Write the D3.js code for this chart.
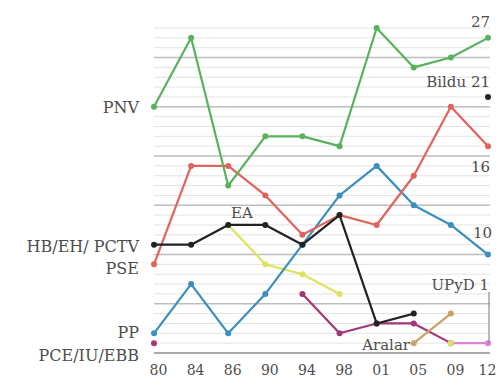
<!DOCTYPE html>
<html><head><meta charset="utf-8">
<script src="https://cdn.jsdelivr.net/npm/d3@7"></script>
<style>html,body{margin:0;padding:0;background:#fff}svg{display:block}</style>
</head><body>
<svg id="c" width="497" height="380"></svg>
<script>
const years = ["80","84","86","90","94","98","01","05","09","12"];
const pnv   = [25,32,17,22,22,21,33,29,30,32];
const pse   = [9,19,19,16,12,14,13,18,25,21];
const hb    = [11,11,13,13,11,14,3,4,null,26];
const pp    = [2,7,2,6,11,16,19,15,13,10];
const ea    = [null,null,13,9,8,6,null,null,1,null];
const iu    = [1,null,null,null,6,2,3,3,1,null];
const upyd  = [null,null,null,null,null,null,null,null,1,1];
const aralar= [null,null,null,null,null,null,null,1,4,null];
const gridMax = 33;

const series = [
  {name:"IU", values:iu, color:"#a3367a"},
  {name:"UPyD", values:upyd, color:"#e27fd6"},
  {name:"Aralar", values:aralar, color:"#c9a266"},
  {name:"EA", values:ea, color:"#dde35c"},
  {name:"PP", values:pp, color:"#3a8fbf"},
  {name:"PSE", values:pse, color:"#e0635c"},
  {name:"HB", values:hb, color:"#222222"},
  {name:"PNV", values:pnv, color:"#58b25c"}
];

const svg = d3.select("#c");
const x = d3.scalePoint().domain(years).range([154, 488]);
const y = d3.scaleLinear().domain([0, 33]).range([353, 28]);

// gridlines
const g = svg.append("g");
g.selectAll("line").data(d3.range(1, gridMax + 1)).join("line")
  .attr("x1", 154).attr("x2", 490)
  .attr("y1", d => y(d)).attr("y2", d => y(d))
  .attr("stroke", d => d % 5 === 0 ? "#bdbdbd" : "#e3e3e3")
  .attr("stroke-width", d => d % 5 === 0 ? 1.5 : 1);
g.append("line").attr("x1", 154).attr("x2", 490).attr("y1", y(0)).attr("y2", y(0))
  .attr("stroke", "#aaa").attr("stroke-width", 2);

// x axis labels
const xa = svg.append("g").attr("transform", `translate(0,${y(0)})`)
  .call(d3.axisBottom(x).tickSize(0).tickPadding(12));
xa.select(".domain").remove();
xa.selectAll("text").attr("dx", (d, i) => i === years.length - 1 ? -1 : 4)
  .attr("font-family", "DejaVu Serif").attr("font-size", 14).attr("fill", "#4d4d4d");

// lines
const line = d3.line().defined(d => d != null).x((d, i) => x(years[i])).y(d => y(d));
series.forEach(s => {
  const data = s.values;
  svg.append("path").attr("d", line(data)).attr("fill", "none")
    .attr("stroke", s.color).attr("stroke-width", 2.2).attr("stroke-linejoin", "round");
  svg.append("g").selectAll("circle")
    .data(data.map((v, i) => ({v, i})).filter(d => d.v != null)).join("circle")
    .attr("cx", d => x(years[d.i])).attr("cy", d => y(d.v)).attr("r", 3)
    .attr("fill", s.color);
});

// UPyD leader line
svg.append("line").attr("x1", x("12") + 1).attr("x2", x("12") + 1)
  .attr("y1", 292).attr("y2", y(1)).attr("stroke", "#777").attr("stroke-width", 1);

const labels = [
  {t:"PNV", x:139, y:pnv[0], s:16, a:"end"},
  {t:"HB/EH/ PCTV", x:139, y:hb[0] - 0.2, s:16, a:"end"},
  {t:"PSE", x:139, y:pse[0] - 0.4, s:16, a:"end"},
  {t:"PP", x:139, y:pp[0] + 0.1, s:16, a:"end"},
  {t:"PCE/IU/EBB", x:139, y:-0.2, s:16, a:"end"},
  {t:"27", x:490, y:33.6, s:15, a:"end"},
  {t:"Bildu 21", x:490, y:27.6, s:15, a:"end"},
  {t:"16", x:490, y:18.9, s:15, a:"end"},
  {t:"10", x:492, y:12.2, s:15, a:"end"},
  {t:"UPyD 1", x:489, y:6.9, s:15, a:"end"},
  {t:"EA", x:242, y:14.3, s:15, a:"middle"},
  {t:"Aralar", x:410, y:0.85, s:15, a:"end"}
];
svg.append("g").selectAll("text").data(labels).join("text")
  .attr("x", d => d.x).attr("y", d => y(d.y)).attr("dy", "0.36em")
  .attr("text-anchor", d => d.a)
  .attr("font-family", "DejaVu Serif").attr("font-size", d => d.s)
  .attr("fill", "#4d4d4d").text(d => d.t);
</script>
</body></html>
